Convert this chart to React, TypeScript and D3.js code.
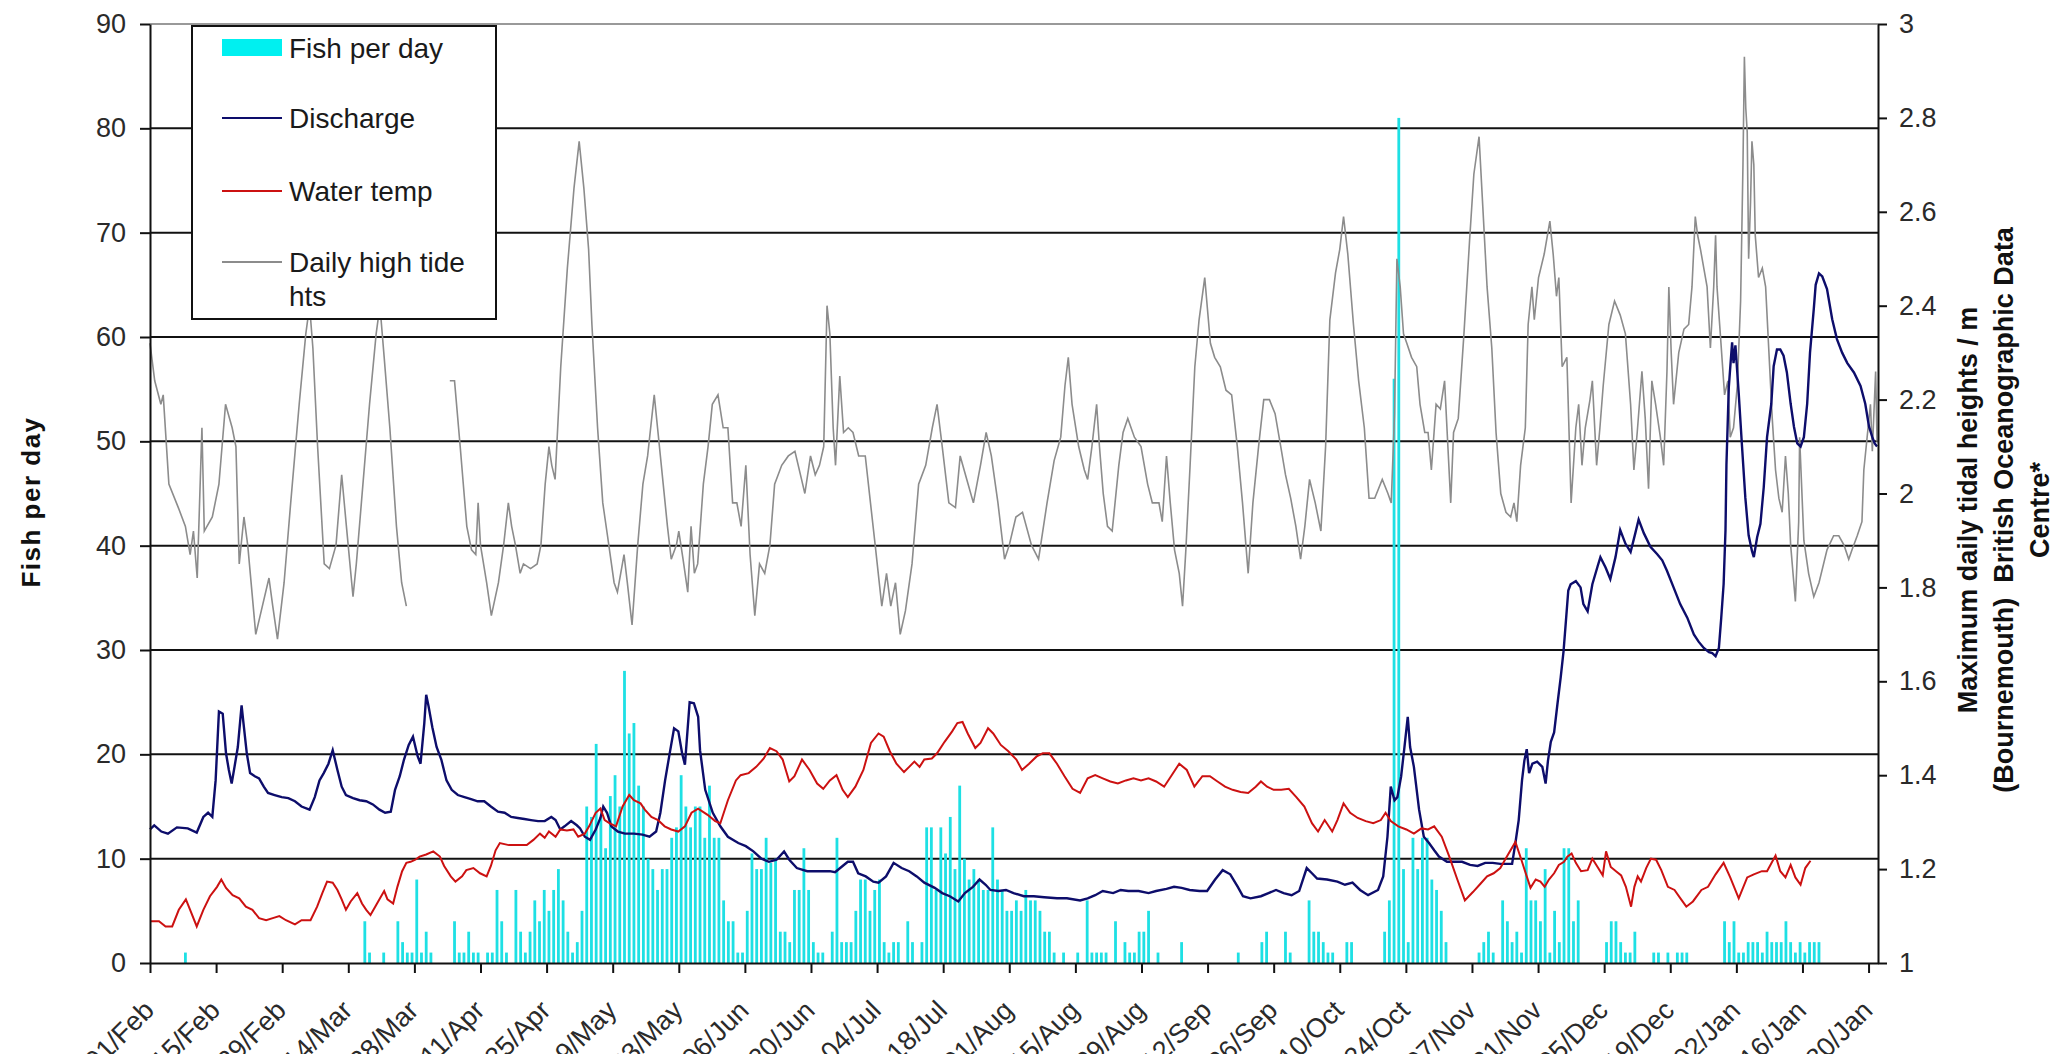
import React, { useEffect, useRef } from 'react';
import * as d3 from 'd3';

// x axis labels, one every 14 days from 01/Feb
const tickLabels = [
  '01/Feb', '15/Feb', '29/Feb', '14/Mar', '28/Mar', '11/Apr', '25/Apr', '09/May', '23/May',
  '06/Jun', '20/Jun', '04/Jul', '18/Jul', '01/Aug', '15/Aug', '29/Aug', '12/Sep', '26/Sep',
  '10/Oct', '24/Oct', '07/Nov', '21/Nov', '05/Dec', '19/Dec', '02/Jan', '16/Jan', '30/Jan',
];
const leftTicks = [0, 10, 20, 30, 40, 50, 60, 70, 80, 90];
const rightTicks = [1, 1.2, 1.4, 1.6, 1.8, 2, 2.2, 2.4, 2.6, 2.8, 3];

// [day since 01/Feb, fish count]  (days not listed = 0)
const fishPerDay: [number, number][] = [
  [7, 1], [45, 4], [46, 1], [49, 1], [52, 4], [53, 2], [54, 1], [55, 1], [56, 8], [57, 1], [58, 3], [59, 1],
  [64, 4], [65, 1], [66, 1], [67, 3], [68, 1], [69, 1], [71, 1], [72, 1], [73, 7], [74, 4], [75, 1], [77, 7],
  [78, 3], [79, 1], [80, 3], [81, 6], [82, 4], [83, 7], [84, 5], [85, 7], [86, 9], [87, 6], [88, 3], [89, 1],
  [90, 2], [91, 5], [92, 15], [93, 14], [94, 21], [95, 14], [96, 11], [97, 16], [98, 18], [99, 15], [100, 28],
  [101, 22], [102, 23], [103, 17], [104, 15], [105, 10], [106, 9], [107, 7], [108, 9], [109, 9], [110, 12],
  [111, 13], [112, 18], [113, 15], [114, 13], [115, 15], [116, 15], [117, 12], [118, 17], [119, 12], [120, 12],
  [121, 6], [122, 4], [123, 4], [124, 1], [125, 1], [126, 5], [127, 10.5], [128, 9], [129, 9], [130, 12],
  [131, 9.6], [132, 10], [133, 3], [134, 3], [135, 2], [136, 7], [137, 7], [138, 11], [139, 7], [140, 2],
  [141, 1], [142, 1], [144, 3], [145, 12], [146, 2], [147, 2], [148, 2], [149, 5], [150, 8], [151, 8], [152, 5],
  [153, 7], [154, 8], [155, 2], [156, 1], [157, 2], [158, 2], [160, 4], [161, 2], [163, 2], [164, 13], [165, 13],
  [166, 7], [167, 13], [168, 10.5], [169, 14], [170, 9], [171, 17], [172, 10], [173, 8], [174, 9], [175, 8],
  [176, 7], [177, 7], [178, 13], [179, 8], [180, 7], [181, 5], [182, 5], [183, 6], [184, 5], [185, 7], [186, 6],
  [187, 6], [188, 5], [189, 3], [190, 3], [191, 1], [193, 1], [196, 1], [198, 6], [199, 1], [200, 1], [201, 1],
  [202, 1], [204, 4], [206, 2], [207, 1], [208, 1], [209, 3], [210, 3], [211, 5], [213, 1], [218, 2], [230, 1],
  [235, 2], [236, 3], [240, 3], [241, 1], [245, 6], [246, 3], [247, 3], [248, 2], [249, 1], [250, 1], [253, 2],
  [254, 2], [261, 3], [262, 6], [263, 56], [264, 81], [265, 9], [266, 2], [267, 12], [268, 9], [269, 12],
  [270, 12], [271, 8], [272, 7], [273, 5], [274, 2], [281, 1], [282, 2], [283, 3], [284, 1], [286, 6], [287, 4],
  [288, 2], [289, 3], [290, 1], [291, 11], [292, 6], [293, 6], [294, 4], [295, 9], [296, 1], [297, 5], [298, 2],
  [299, 11], [300, 11], [301, 4], [302, 6], [308, 2], [309, 4], [310, 4], [311, 2], [312, 1], [313, 1], [314, 3],
  [318, 1], [319, 1], [321, 1], [323, 1], [324, 1], [325, 1], [333, 4], [334, 2], [335, 4], [336, 1], [337, 1],
  [338, 2], [339, 2], [340, 2], [341, 1], [342, 3], [343, 2], [344, 2], [345, 2], [346, 4], [347, 2], [348, 1],
  [349, 2], [350, 1], [351, 2], [352, 2], [353, 2],
];

// [day, discharge]
const discharge: [number, number][] = [
  [0, 12.8], [0.9, 13.2], [2.4, 12.6], [3.8, 12.4], [5.7, 13], [8, 12.9], [9.9, 12.5], [11.3, 14], [12.3, 14.4],
  [13.2, 14], [13.9, 17.5], [14.6, 24.1], [15.4, 23.9], [16.1, 20.1], [16.7, 18.5], [17.3, 17.2], [17.9, 18.8],
  [18.6, 20.7], [19.4, 24.7], [19.8, 23], [20.5, 20.1], [21.2, 18.2], [22.2, 17.9], [23.1, 17.7], [24.1, 16.9],
  [25, 16.3], [26.4, 16.1], [27.9, 15.9], [29.3, 15.8], [30.7, 15.5], [32.1, 15], [33.8, 14.7], [34.9, 15.9],
  [35.9, 17.5], [36.8, 18.2], [37.8, 19.1], [38.7, 20.4], [39.7, 18.5], [40.6, 16.9], [41.5, 16.1], [43, 15.8],
  [44.4, 15.6], [45.8, 15.5], [47.2, 15.2], [48.6, 14.7], [49.8, 14.4], [51, 14.5], [51.9, 16.6], [52.9, 17.9],
  [53.8, 19.5], [54.8, 20.9], [55.7, 21.7], [56.7, 19.8], [57.3, 19.1], [58.1, 23], [58.5, 25.7], [59, 24.6],
  [59.8, 22.6], [60.7, 20.7], [61.7, 19.5], [62.8, 17.5], [63.9, 16.6], [65.2, 16.1], [66.6, 15.9], [68, 15.7],
  [69.4, 15.5], [70.8, 15.5], [72.2, 15], [73.7, 14.5], [75.1, 14.4], [76.5, 14], [77.9, 13.9], [79.3, 13.8],
  [80.7, 13.7], [82.2, 13.6], [83.6, 13.6], [85, 14], [85.9, 13.7], [86.9, 12.8], [87.8, 13.1], [89.2, 13.6],
  [90.4, 13.2], [91.1, 12.9], [92.1, 12.1], [93.2, 11.8], [94.4, 12.8], [95.4, 13.9], [96, 15], [96.8, 14.4],
  [97.7, 13.1], [99.1, 12.6], [100.6, 12.4], [102.5, 12.4], [104.3, 12.3], [105.8, 12.1], [107.2, 12.6],
  [108.1, 14.4], [109.1, 17.5], [110, 19.9], [111, 22.5], [111.9, 22.2], [112.7, 20.1], [113.3, 19], [114.3, 25],
  [115.2, 24.9], [116.1, 23.6], [116.5, 20.4], [117.6, 16.6], [119.2, 14.4], [120.8, 13.1], [122.4, 12.1],
  [124.6, 11.5], [126.2, 11.2], [127.8, 10.7], [129.5, 10], [131.1, 9.7], [132.7, 9.9], [134.3, 10.7],
  [135.4, 9.9], [137, 9.1], [139.2, 8.8], [141.3, 8.8], [144, 8.8], [145.1, 8.7], [146.7, 9.3], [147.8, 9.7],
  [148.9, 9.7], [150, 8.6], [151.6, 8.3], [153.2, 7.8], [154.3, 7.7], [155.9, 8.3], [157.5, 9.6], [159.2, 9.1],
  [160.8, 8.8], [162.4, 8.3], [164, 7.7], [166.2, 7.2], [167.8, 6.7], [169.4, 6.4], [171.2, 5.9], [172.6, 6.7],
  [174.3, 7.3], [175.7, 8], [177, 7.5], [178, 7], [179.7, 6.9], [181.3, 7], [182.9, 6.7], [185.1, 6.4],
  [187.2, 6.4], [189.4, 6.3], [192.1, 6.2], [194.2, 6.2], [197, 6], [198.6, 6.2], [200.2, 6.5], [201.8, 6.9],
  [204, 6.7], [205.6, 7], [207.2, 6.9], [209.4, 6.9], [211.5, 6.7], [213.1, 6.9], [215.3, 7.1], [216.9, 7.3],
  [218.5, 7.2], [220.2, 7], [222.3, 6.9], [223.9, 6.9], [225.6, 8], [227.2, 8.9], [228.8, 8.5], [230.4, 7.3],
  [231.5, 6.4], [233.1, 6.2], [235.3, 6.4], [236.9, 6.7], [238.5, 7], [240.1, 6.7], [241.8, 6.5], [243.4, 6.9],
  [245, 9.1], [246.1, 8.6], [247.2, 8.1], [249.3, 8], [251.5, 7.8], [253.1, 7.5], [254.7, 7.7], [256.3, 7],
  [258, 6.5], [260.1, 7], [261.2, 8.3], [262.1, 12.1], [262.8, 16.9], [263.6, 15.6], [264.2, 15.9], [265, 17.9],
  [265.7, 20.7], [266.4, 23.6], [266.9, 20.7], [267.7, 18.8], [268.8, 14.7], [269.8, 12.1], [270.9, 11.5],
  [272, 10.8], [273, 10.2], [274.7, 9.7], [276.3, 9.7], [277.9, 9.7], [279.6, 9.4], [281.2, 9.3], [282.8, 9.6],
  [284.4, 9.6], [286, 9.5], [288.5, 9.5], [289.2, 11.5], [289.9, 13.7], [290.6, 17.5], [291.1, 19.4],
  [291.6, 20.5], [292.1, 18.2], [292.8, 19.1], [293.8, 19.3], [294.9, 18.8], [295.6, 17.2], [296.1, 19.4],
  [296.7, 21.2], [297.4, 22.1], [298.1, 24.8], [298.8, 27.4], [299.4, 29.9], [299.9, 32.8], [300.4, 35.7],
  [300.9, 36.3], [302, 36.6], [303, 36], [303.6, 34.4], [304.5, 33.7], [305.5, 36.3], [306.6, 38], [307.2, 38.9],
  [308.3, 37.9], [309.3, 36.8], [310.4, 38.9], [311.4, 41.5], [312.5, 40.2], [313.6, 39.4], [314.6, 41.2],
  [315.3, 42.5], [316.4, 41.2], [317.8, 39.9], [319.2, 39.2], [320.3, 38.6], [321.3, 37.6], [322.7, 36],
  [324.1, 34.4], [325.6, 33.1], [327, 31.5], [328, 30.8], [329.1, 30.2], [330.2, 29.8], [330.9, 29.7],
  [331.6, 29.4], [332.3, 30.2], [332.8, 33.1], [333.3, 36.3], [333.7, 41.5], [333.9, 47.8], [334.4, 55.2],
  [335.1, 59.5], [335.4, 57.5], [335.8, 59.2], [336.5, 54.6], [337.2, 49.5], [337.9, 44.6], [338.6, 41],
  [339.3, 39.5], [339.7, 38.9], [340.4, 40.8], [341.1, 42.1], [341.8, 45.6], [342.5, 50.4], [343.4, 53.6],
  [343.9, 57.2], [344.6, 58.8], [345.3, 58.8], [346, 58.2], [346.7, 56.6], [347.5, 53.6], [348.2, 51.4],
  [348.9, 49.8], [349.6, 49.5], [350.3, 50.4], [351, 53.6], [351.6, 58.5], [352.4, 62.7], [352.8, 65],
  [353.5, 66.1], [354.2, 65.8], [355.2, 64.6], [356.3, 61.7], [357.3, 59.8], [358.4, 58.5], [359.5, 57.5],
  [360.9, 56.6], [362.3, 55.3], [363.3, 53.6], [364.1, 51.4], [364.8, 50.4], [365.3, 49.8], [365.8, 49.5],
];

// [day, water temperature]
const waterTemp: [number, number][] = [
  [0, 4], [1.9, 4], [3.3, 3.5], [4.7, 3.5], [6.1, 5.1], [7.6, 6.1], [8.5, 5.1], [9.9, 3.5], [11.3, 5.1],
  [12.7, 6.4], [14.2, 7.3], [15.1, 8], [16.1, 7.2], [17.5, 6.5], [18.9, 6.2], [20.3, 5.4], [21.7, 5.1],
  [23.1, 4.3], [24.6, 4.1], [26, 4.3], [27.4, 4.5], [28.8, 4.1], [30.7, 3.7], [32.1, 4.1], [34, 4.1],
  [35.4, 5.4], [36.5, 6.7], [37.5, 7.8], [38.7, 7.7], [39.7, 7], [40.6, 6.1], [41.5, 5.1], [42.5, 5.9],
  [43.9, 6.7], [44.9, 5.7], [45.8, 5.1], [46.7, 4.6], [47.7, 5.4], [48.6, 6.1], [49.6, 6.9], [50.3, 6.1],
  [51.5, 5.7], [52.4, 7.3], [53.4, 8.8], [54.3, 9.6], [55.2, 9.7], [56.2, 9.9], [57.1, 10.2], [58.5, 10.4],
  [60, 10.7], [61.4, 10.2], [62.3, 9.3], [63.7, 8.3], [64.7, 7.8], [66.1, 8.3], [67, 8.9], [68.5, 9.1],
  [69.9, 8.6], [71.3, 8.3], [72.2, 9.3], [73.2, 10.8], [74.1, 11.5], [76, 11.3], [77.9, 11.3], [79.8, 11.3],
  [81.2, 11.8], [82.6, 12.4], [83.6, 12], [84.5, 12.6], [85.9, 12.1], [86.9, 12.8], [88.3, 12.7], [89.7, 12.8],
  [90.7, 12.1], [92.1, 12.4], [93, 13.1], [94.4, 14.4], [95.4, 14.8], [96.3, 13.7], [97.3, 13.4], [98.7, 13.1],
  [100.1, 15], [101.5, 16.1], [102.5, 15.6], [103.9, 15.3], [104.8, 14.7], [106.2, 14], [107.6, 13.7],
  [109, 13.1], [110.4, 12.8], [111.9, 12.6], [113.3, 13.1], [114.7, 14.4], [116.1, 14.8], [118.1, 14.2],
  [119.7, 13.6], [120.8, 13.4], [122.4, 15.6], [124.1, 17.5], [125.1, 18], [126.8, 18.2], [128.4, 18.8],
  [130, 19.6], [131.3, 20.6], [132.7, 20.3], [134, 19.5], [135.4, 17.4], [136.5, 17.9], [138.1, 19.5],
  [139.7, 18.5], [141.3, 17.2], [142.6, 16.7], [144, 17.5], [145.4, 18], [146.7, 16.6], [147.8, 15.9],
  [149.4, 16.9], [151.1, 18.5], [152.7, 21.1], [154.3, 22], [155.4, 21.7], [156.7, 20.3], [158.1, 19.1],
  [159.7, 18.3], [160.8, 18.8], [161.9, 19.3], [163, 18.8], [164, 19.5], [165.6, 19.6], [166.7, 20.1],
  [168.3, 21.2], [169.9, 22.2], [171, 23], [172.1, 23.1], [173.2, 22], [174.8, 20.6], [175.9, 21.1],
  [177.5, 22.5], [178.6, 22], [180.2, 20.9], [181.8, 20.3], [183.5, 19.5], [184.7, 18.5], [186.2, 19.1],
  [187.8, 19.8], [189.1, 20.1], [190.5, 20.1], [192.1, 19.1], [193.7, 17.9], [195.4, 16.7], [197, 16.3],
  [198.6, 17.7], [200.2, 18], [201.8, 17.7], [203.4, 17.4], [205, 17.2], [206.7, 17.5], [208.3, 17.7],
  [209.9, 17.5], [211.5, 17.7], [213.1, 17.4], [214.8, 16.9], [216.4, 18], [218, 19.1], [219.6, 18.5],
  [221.2, 16.9], [222.9, 17.9], [224.5, 17.9], [226.1, 17.4], [227.7, 16.9], [229.3, 16.6], [231, 16.4],
  [232.6, 16.3], [234.2, 16.9], [235.3, 17.4], [236.6, 16.9], [238, 16.6], [239.6, 16.6], [241.2, 16.7],
  [242.8, 15.9], [244.5, 15], [246.1, 13.4], [247.4, 12.6], [248.8, 13.7], [250.4, 12.6], [251.5, 13.7],
  [252.8, 15.3], [254.2, 14.4], [255.8, 13.9], [257.5, 13.6], [259.1, 13.4], [260.7, 13.7], [261.7, 14.4],
  [262.8, 13.6], [264.4, 13.1], [266.1, 12.8], [267.7, 12.4], [269.3, 12.9], [270.7, 12.8], [272, 13.1],
  [273.6, 12.1], [275.2, 10.2], [276.9, 8], [278.5, 6], [280.2, 6.8], [281.8, 7.6], [283.2, 8.3], [284.6, 8.6],
  [286, 9.1], [287.4, 10.2], [289.2, 11.6], [290.6, 9.7], [291.6, 8.3], [292.4, 7.2], [293.5, 8], [294.5, 7.8],
  [295.4, 7.3], [296.3, 8], [297.4, 8.6], [298.4, 9.4], [299.5, 9.7], [300.2, 10.2], [301.1, 10.5], [302, 9.6],
  [303.1, 8.8], [304.5, 8.9], [305.5, 10], [306.6, 9.2], [307.7, 8.4], [308.4, 10.7], [309.4, 9.2],
  [310.5, 8.8], [311.6, 8.4], [312.6, 7.3], [313.7, 5.4], [314.4, 7.3], [315.1, 8.3], [315.8, 7.8],
  [316.9, 9.1], [317.9, 10], [319, 9.9], [320.1, 8.9], [321.5, 7.3], [322.9, 7], [324.3, 6.1], [325.4, 5.4],
  [326.8, 5.9], [328.6, 7], [330, 7.3], [331.6, 8.5], [333.3, 9.6], [334.7, 8.2], [336.5, 6.2], [338.3, 8.2],
  [339.7, 8.5], [341.4, 8.8], [342.5, 8.8], [344.3, 10.3], [345.3, 8.8], [346.4, 8.2], [347.5, 9.4],
  [348.5, 8.2], [349.6, 7.5], [350.6, 9.1], [351.7, 9.8],
];

// [day, max daily tide height in m] (right axis); null = missing data
const tideHeight: [number, number | null][] = [
  [0, 2.32], [1, 2.24], [2.3, 2.19], [2.8, 2.21], [4, 2.02], [6, 1.97], [7.5, 1.93], [8.5, 1.87], [9.2, 1.92],
  [10, 1.82], [11, 2.14], [11.5, 1.92], [13.2, 1.95], [14.6, 2.02], [16, 2.19], [17.4, 2.14], [18.2, 2.1],
  [18.9, 1.85], [19.9, 1.95], [20.7, 1.89], [22.4, 1.7], [23.8, 1.76], [25.2, 1.82], [26, 1.76], [27, 1.69],
  [28.4, 1.81], [29.8, 1.98], [31.6, 2.19], [33, 2.34], [33.8, 2.4], [34.5, 2.31], [35.5, 2.1], [36.9, 1.85],
  [38, 1.84], [39.4, 1.89], [40.6, 2.04], [41.6, 1.93], [43, 1.78], [43.7, 1.85], [45.1, 2.02], [46.5, 2.19],
  [47.9, 2.34], [48.7, 2.4], [49.6, 2.29], [50.8, 2.14], [52.2, 1.93], [53.3, 1.81], [54.3, 1.76], [59, null],
  [63.5, 2.24], [64.5, 2.24], [65.7, 2.1], [67.1, 1.93], [68.1, 1.88], [69, 1.87], [69.5, 1.98], [70, 1.89],
  [71.3, 1.81], [72.3, 1.74], [73.8, 1.81], [74.9, 1.89], [75.9, 1.98], [76.6, 1.93], [77.4, 1.89], [78.4, 1.83],
  [79.1, 1.85], [80.6, 1.84], [82, 1.85], [82.8, 1.89], [83.7, 2.02], [84.5, 2.1], [85.1, 2.06], [85.8, 2.03],
  [87, 2.27], [88.4, 2.48], [89.8, 2.65], [90.9, 2.75], [91.9, 2.65], [92.9, 2.52], [93.6, 2.36], [94.8, 2.14],
  [95.9, 1.98], [96.9, 1.91], [98.3, 1.81], [99, 1.79], [100.4, 1.87], [101.1, 1.81], [102.1, 1.72],
  [103.3, 1.89], [104.4, 2.02], [105.4, 2.08], [106.8, 2.21], [107.5, 2.14], [108.7, 2.02], [109.6, 1.93],
  [110.4, 1.86], [111.5, 1.89], [112, 1.92], [112.9, 1.86], [113.9, 1.79], [114.6, 1.93], [115.3, 1.83],
  [116, 1.85], [117.2, 2.02], [118.2, 2.1], [119.1, 2.19], [120.3, 2.21], [121.4, 2.14], [122.4, 2.14],
  [123.4, 1.98], [124.3, 1.98], [125.2, 1.93], [126.2, 2.06], [127.1, 1.87], [128.1, 1.74], [129.1, 1.85],
  [130.2, 1.83], [131.3, 1.89], [132.3, 2.02], [133.8, 2.06], [135.2, 2.08], [136.6, 2.09], [138, 2.03],
  [138.7, 2], [139.9, 2.08], [140.9, 2.04], [141.8, 2.06], [142.7, 2.1], [143.4, 2.4], [144, 2.34],
  [144.7, 2.14], [145.2, 2.06], [146.1, 2.25], [146.9, 2.13], [147.9, 2.14], [148.9, 2.13], [150.1, 2.08],
  [151.5, 2.08], [152.6, 1.98], [153.6, 1.89], [155, 1.76], [156, 1.83], [156.9, 1.76], [157.9, 1.81],
  [158.9, 1.7], [160, 1.75], [161.4, 1.85], [162.8, 2.02], [164.3, 2.06], [165.7, 2.14], [166.7, 2.19],
  [167.8, 2.1], [169.2, 1.98], [170.6, 1.97], [171.6, 2.08], [173, 2.03], [174.4, 1.98], [175.9, 2.06],
  [177.1, 2.13], [178.2, 2.08], [179.6, 1.98], [181, 1.86], [182, 1.89], [183.4, 1.95], [184.8, 1.96],
  [186.7, 1.89], [188.2, 1.86], [190, 1.98], [191.5, 2.07], [192.9, 2.12], [193.8, 2.23], [194.5, 2.29],
  [195.3, 2.19], [196.7, 2.1], [197.9, 2.05], [198.6, 2.03], [199.5, 2.1], [200.5, 2.19], [201.1, 2.1],
  [201.9, 2], [202.8, 1.93], [203.8, 1.92], [205.2, 2.06], [206.1, 2.13], [207.1, 2.16], [208.5, 2.12],
  [209.9, 2.1], [211.3, 2.02], [212.3, 1.98], [213.7, 1.98], [214.4, 1.94], [215.3, 2.08], [216.1, 1.98],
  [217, 1.88], [218, 1.83], [218.7, 1.76], [219.4, 1.88], [220.3, 2.06], [221.3, 2.27], [222.2, 2.37],
  [223.4, 2.46], [224.6, 2.32], [225.5, 2.29], [226.7, 2.27], [227.9, 2.22], [229.1, 2.21], [230.3, 2.1],
  [231.4, 1.98], [232.6, 1.83], [233.6, 1.98], [234.8, 2.1], [235.9, 2.2], [237.1, 2.2], [238.3, 2.17],
  [239.5, 2.1], [240.5, 2.04], [241.6, 1.99], [242.7, 1.93], [243.7, 1.86], [244.6, 1.93], [245.6, 2.03],
  [246.8, 1.98], [248, 1.92], [249, 2.1], [249.9, 2.37], [251.1, 2.47], [252, 2.52], [252.8, 2.59],
  [253.7, 2.51], [254.9, 2.36], [256, 2.24], [257.2, 2.14], [258.2, 1.99], [259.4, 1.99], [261, 2.03],
  [262.2, 2], [262.9, 1.98], [263.6, 2.17], [264.1, 2.5], [264.8, 2.44], [265.5, 2.34], [266.2, 2.32],
  [267.2, 2.29], [268.3, 2.27], [269, 2.19], [270, 2.13], [270.7, 2.13], [271.4, 2.05], [272.4, 2.19],
  [273.3, 2.18], [274.2, 2.24], [274.9, 2.1], [275.5, 1.98], [276.1, 2.13], [277.1, 2.16], [278.3, 2.34],
  [279.5, 2.54], [280.4, 2.68], [281.5, 2.76], [282.3, 2.61], [283.2, 2.44], [284.2, 2.31], [285.1, 2.13],
  [286.1, 2], [287.2, 1.96], [288.2, 1.95], [288.9, 1.98], [289.5, 1.94], [290.3, 2.06], [291.3, 2.14],
  [291.9, 2.36], [292.7, 2.44], [293.2, 2.37], [294.1, 2.46], [295.3, 2.51], [296.5, 2.58], [297.2, 2.51],
  [297.9, 2.42], [298.4, 2.46], [299.1, 2.27], [300.1, 2.29], [301, 1.98], [302, 2.14], [302.6, 2.19],
  [303.3, 2.06], [304, 2.14], [305, 2.2], [305.5, 2.24], [306.4, 2.06], [307.1, 2.14], [307.8, 2.23],
  [309, 2.36], [310.2, 2.41], [311.4, 2.38], [312.5, 2.34], [313.6, 2.19], [314.3, 2.05], [315, 2.13],
  [316, 2.26], [316.7, 2.16], [317.4, 2.01], [318.1, 2.24], [318.9, 2.19], [319.9, 2.12], [320.6, 2.06],
  [321.3, 2.26], [321.7, 2.44], [322.2, 2.3], [322.7, 2.19], [323.8, 2.3], [324.9, 2.35], [325.9, 2.36],
  [326.6, 2.44], [327.3, 2.59], [327.8, 2.55], [328.4, 2.52], [329.1, 2.48], [329.8, 2.44], [330.5, 2.31],
  [331.2, 2.44], [331.6, 2.55], [331.9, 2.44], [332.6, 2.34], [333.5, 2.21], [334.2, 2.24], [334.7, 2.12],
  [335.4, 2.14], [336.2, 2.23], [336.9, 2.41], [337.4, 2.7], [337.7, 2.93], [338, 2.82], [338.3, 2.77],
  [338.6, 2.5], [339, 2.62], [339.3, 2.75], [339.7, 2.7], [340, 2.55], [340.7, 2.46], [341.5, 2.48],
  [342.2, 2.44], [342.9, 2.3], [343.6, 2.16], [344.3, 2.05], [345, 1.99], [345.7, 1.96], [346.4, 2.08],
  [347, 2], [347.5, 1.89], [348.5, 1.77], [349.2, 1.94], [349.4, 2.12], [350.3, 1.9], [351.3, 1.83],
  [352.4, 1.78], [353.5, 1.81], [355.2, 1.88], [356.6, 1.91], [357.7, 1.91], [358.8, 1.89], [359.8, 1.86],
  [360.5, 1.88], [361.6, 1.91], [362.6, 1.94], [363, 2.05], [363.7, 2.12], [364.4, 2.19], [364.8, 2.09],
  [365.5, 2.26], [365.8, 2.11],
];

const FONT = '"Liberation Sans", Arial, sans-serif';

const App: React.FC = () => {
  const svgRef = useRef<SVGSVGElement | null>(null);

  useEffect(() => {
    const width = 2062;
    const height = 1054;
    const margin = { top: 24, right: 184, bottom: 91, left: 150 };

    const svg = d3.select(svgRef.current)
      .attr('width', width)
      .attr('height', height)
      .style('background', '#fff');

    svg.selectAll('*').remove();

    const x = d3.scaleLinear()
      .domain([0, 366])
      .range([margin.left, width - margin.right]);

    const yLeft = d3.scaleLinear()
      .domain([0, 90])
      .range([height - margin.bottom, margin.top]);

    const yRight = d3.scaleLinear()
      .domain([1, 3])
      .range([height - margin.bottom, margin.top]);

    // Gridlines
    svg.append('g')
      .selectAll('line')
      .data(leftTicks.filter(t => t > 0))
      .join('line')
      .attr('x1', margin.left)
      .attr('x2', width - margin.right)
      .attr('y1', d => yLeft(d))
      .attr('y2', d => yLeft(d))
      .attr('stroke', d => (d === 90 ? '#999' : '#111'))
      .attr('stroke-width', 2);

    // Fish bars
    svg.append('g')
      .selectAll('rect')
      .data(fishPerDay)
      .join('rect')
      .attr('x', d => x(d[0] + 0.5) - 1.4)
      .attr('width', 2.8)
      .attr('y', d => yLeft(d[1]))
      .attr('height', d => yLeft(0) - yLeft(d[1]))
      .attr('fill', '#1ee0e4');

    // Lines
    const tideLine = d3.line<[number, number | null]>()
      .defined(d => d[1] !== null)
      .x(d => x(d[0]))
      .y(d => yRight(d[1] as number));

    const leftLine = d3.line<[number, number]>()
      .x(d => x(d[0]))
      .y(d => yLeft(d[1]));

    svg.append('path')
      .datum(tideHeight)
      .attr('d', tideLine)
      .attr('fill', 'none')
      .attr('stroke', '#8c8c8c')
      .attr('stroke-width', 1.6);

    svg.append('path')
      .datum(discharge)
      .attr('d', leftLine)
      .attr('fill', 'none')
      .attr('stroke', '#0d0d6b')
      .attr('stroke-width', 2.4);

    svg.append('path')
      .datum(waterTemp)
      .attr('d', leftLine)
      .attr('fill', 'none')
      .attr('stroke', '#cc1111')
      .attr('stroke-width', 2);

    // Axes
    const leftAxis = d3.axisLeft(yLeft).tickValues(leftTicks).tickSize(10).tickSizeOuter(0).tickPadding(14);
    const gl = svg.append('g')
      .attr('transform', `translate(${margin.left},0)`)
      .call(leftAxis);

    const rightAxis = d3.axisRight(yRight).tickValues(rightTicks).tickSize(9).tickSizeOuter(0).tickPadding(12)
      .tickFormat(d => d3.format('~g')(d as number));
    const gr = svg.append('g')
      .attr('transform', `translate(${width - margin.right},0)`)
      .call(rightAxis);

    const tickDays = tickLabels.map((_, i) => i * 14);
    const bottomAxis = d3.axisBottom(x).tickValues(tickDays).tickSize(10).tickSizeOuter(0)
      .tickFormat((_, i) => tickLabels[i]);
    const gb = svg.append('g')
      .attr('transform', `translate(0,${height - margin.bottom})`)
      .call(bottomAxis);

    [gl, gr, gb].forEach(g => {
      g.select('.domain').attr('stroke', '#111').attr('stroke-width', 2);
      g.selectAll('.tick line').attr('stroke', '#111').attr('stroke-width', 2);
      g.selectAll('.tick text')
        .style('font-family', FONT)
        .style('font-size', '27px')
        .attr('fill', '#2a2a2a');
    });

    gb.selectAll('.tick text')
      .attr('x', 5)
      .attr('y', 49)
      .attr('dy', 0)
      .attr('text-anchor', 'end')
      .attr('transform', 'rotate(-45, 5, 49)');

    // Axis titles
    svg.append('text')
      .attr('transform', `translate(40,${502}) rotate(-90)`)
      .attr('text-anchor', 'middle')
      .style('font-family', FONT)
      .style('font-size', '26px')
      .style('font-weight', 'bold')
      .style('letter-spacing', '1.5px')
      .attr('fill', '#111')
      .text('Fish per day');

    const rightTitle = [
      'Maximum daily tidal heights / m',
      '(Bournemouth)  British Oceanographic Data',
      'Centre*',
    ];
    svg.append('g')
      .selectAll('text')
      .data(rightTitle)
      .join('text')
      .attr('transform', (_, i) => `translate(${1977 + i * 36},510) rotate(-90)`)
      .attr('text-anchor', 'middle')
      .style('font-family', FONT)
      .style('font-size', '27px')
      .style('font-weight', 'bold')
      .style('white-space', 'pre')
      .attr('xml:space', 'preserve')
      .attr('fill', '#111')
      .text(d => d);

    // Legend
    const legend = svg.append('g');
    legend.append('rect')
      .attr('x', 192)
      .attr('y', 26)
      .attr('width', 304)
      .attr('height', 293)
      .attr('fill', '#fff')
      .attr('stroke', '#111')
      .attr('stroke-width', 2);

    const legendItems = [
      { label: ['Fish per day'], color: '#1ee0e4', kind: 'bar', y: 48 },
      { label: ['Discharge'], color: '#0d0d6b', kind: 'line', y: 118 },
      { label: ['Water temp'], color: '#cc1111', kind: 'line', y: 191 },
      { label: ['Daily high tide', 'hts'], color: '#8c8c8c', kind: 'line', y: 262 },
    ];

    legendItems.forEach(item => {
      if (item.kind === 'bar') {
        legend.append('rect')
          .attr('x', 222).attr('y', item.y - 9)
          .attr('width', 60).attr('height', 17)
          .attr('fill', '#00f0f0');
      } else {
        legend.append('line')
          .attr('x1', 222).attr('x2', 282)
          .attr('y1', item.y).attr('y2', item.y)
          .attr('stroke', item.color)
          .attr('stroke-width', 2);
      }
      item.label.forEach((t, i) => {
        legend.append('text')
          .attr('x', 289)
          .attr('y', item.y + 10 + i * 34)
          .style('font-family', FONT)
          .style('font-size', '28px')
          .attr('fill', '#1a1a1a')
          .text(t);
      });
    });
  }, []);

  return (
    <svg
      ref={svgRef}
      style={{ position: 'absolute', left: 0, top: 0, display: 'block', overflow: 'hidden' }}
    />
  );
};

export default App;
